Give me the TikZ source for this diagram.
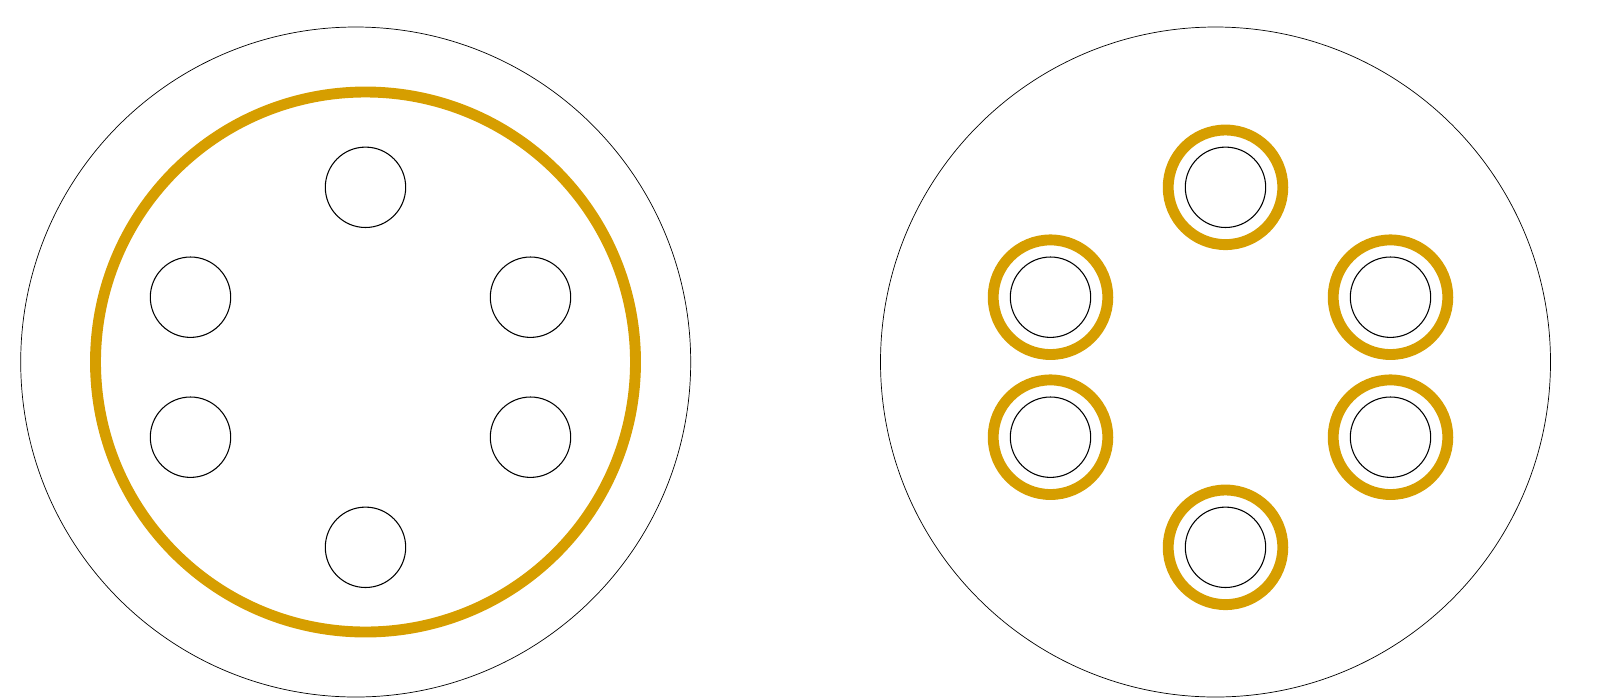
\documentclass[tikz,border=0pt]{standalone}
\usepackage{tikz}
\definecolor{ringgold}{RGB}{214,158,0}

\begin{document}
\begin{tikzpicture}[scale=2]
\tikzstyle{outer}=[black, line width=0.4pt]
\tikzstyle{wire}=[black, line width=0.6pt]
\tikzstyle{shield}=[ringgold, line width=6.2pt]
\useasboundingbox (0,0) rectangle (16.10,-6.98);
% left: one shield round all wires
\draw [outer] (3.557,-3.62) circle (3.35);
\draw [shield] (3.655,-3.62) circle (2.70);
\draw [wire] (3.655,-1.873) circle (0.402);
\draw [wire] (1.905,-2.972) circle (0.402);
\draw [wire] (5.305,-2.972) circle (0.402);
\draw [wire] (1.905,-4.372) circle (0.402);
\draw [wire] (5.305,-4.372) circle (0.402);
\draw [wire] (3.655,-5.473) circle (0.402);
% right: one shield round each wire
\draw [outer] (12.155,-3.62) circle (3.35);
\draw [shield] (12.255,-1.873) circle (0.573);
\draw [wire] (12.255,-1.873) circle (0.402);
\draw [shield] (10.505,-2.972) circle (0.573);
\draw [wire] (10.505,-2.972) circle (0.402);
\draw [shield] (13.905,-2.972) circle (0.573);
\draw [wire] (13.905,-2.972) circle (0.402);
\draw [shield] (10.505,-4.372) circle (0.573);
\draw [wire] (10.505,-4.372) circle (0.402);
\draw [shield] (13.905,-4.372) circle (0.573);
\draw [wire] (13.905,-4.372) circle (0.402);
\draw [shield] (12.255,-5.473) circle (0.573);
\draw [wire] (12.255,-5.473) circle (0.402);
\end{tikzpicture}
\end{document}
